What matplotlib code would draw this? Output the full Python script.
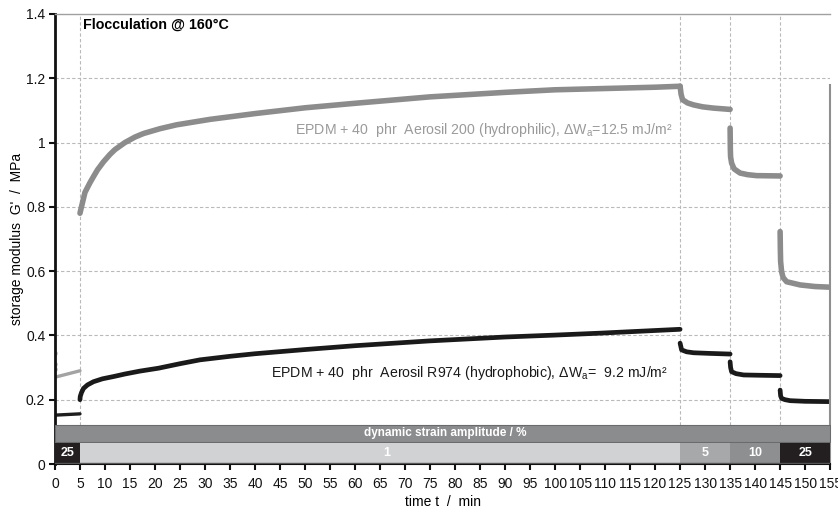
import matplotlib.pyplot as plt
from matplotlib.ticker import MultipleLocator, FormatStrFormatter

plt.rcParams['font.family'] = ['Liberation Sans', 'DejaVu Sans']
plt.rcParams['mathtext.fontset'] = 'custom'
plt.rcParams['mathtext.rm'] = 'Liberation Sans'
plt.rcParams['mathtext.it'] = 'Liberation Sans:italic'

# strain program: step start / end in min and amplitude in %
step_start = [0, 5, 125, 135, 145]
step_end = [5, 125, 135, 145, 155]
strain_amp = [25, 1, 5, 10, 25]

# EPDM + Aerosil 200 (hydrophilic), one list per strain step
hphil_t0 = [0, 5]
hphil_g0 = [0.27, 0.29]
hphil_t1 = [5, 5.3, 6, 7, 7.7, 8.5, 9.7, 11, 12, 14, 16, 17.7, 21, 24.3, 31,
            40, 50, 60, 75, 90, 100, 110, 120, 125]
hphil_g1 = [0.78, 0.80, 0.845, 0.875, 0.894, 0.915, 0.94, 0.963, 0.978, 1.0,
            1.017, 1.028, 1.043, 1.055, 1.072, 1.09, 1.108, 1.122, 1.142,
            1.156, 1.164, 1.168, 1.172, 1.175]
hphil_t2 = [125, 125.2, 125.5, 126.5, 127.7, 129.5, 131.7, 135]
hphil_g2 = [1.175, 1.15, 1.133, 1.123, 1.117, 1.111, 1.107, 1.103]
hphil_t3 = [135, 135.05, 135.1, 135.3, 135.8, 137, 138.5, 140.3, 145]
hphil_g3 = [1.045, 0.977, 0.955, 0.936, 0.918, 0.905, 0.9, 0.897, 0.896]
hphil_t4 = [145, 145.05, 145.1, 145.3, 145.6, 146.3, 149, 152, 155]
hphil_g4 = [0.723, 0.666, 0.63, 0.598, 0.58, 0.567, 0.557, 0.552, 0.55]

# EPDM + Aerosil R974 (hydrophobic)
hphob_t0 = [0, 5]
hphob_g0 = [0.152, 0.156]
hphob_t1 = [5, 5.05, 5.3, 5.7, 6.5, 7.7, 9.5, 11.7, 14, 17, 20.7, 25, 29, 35,
            40, 50, 60, 75, 90, 100, 109, 117, 125]
hphob_g1 = [0.2, 0.21, 0.222, 0.235, 0.246, 0.256, 0.265, 0.272, 0.28, 0.289,
            0.298, 0.312, 0.324, 0.335, 0.343, 0.356, 0.368, 0.383, 0.395,
            0.401, 0.407, 0.413, 0.419]
hphob_t2 = [125, 125.3, 126.3, 127.7, 131, 135]
hphob_g2 = [0.376, 0.355, 0.349, 0.346, 0.344, 0.342]
hphob_t3 = [135, 135.1, 135.3, 136.2, 137.7, 141, 145]
hphob_g3 = [0.318, 0.3, 0.287, 0.281, 0.277, 0.276, 0.275]
hphob_t4 = [145, 145.1, 145.3, 146, 147, 150, 155]
hphob_g4 = [0.23, 0.212, 0.204, 0.2, 0.197, 0.195, 0.194]

amp_color = {25: '#231f20', 1: '#d1d2d4', 5: '#a7a8aa', 10: '#8e8f91'}

fig = plt.figure(figsize=(8.38, 5.08), dpi=100)
ax = fig.add_axes([0.0656, 0.0866, 0.925, 0.886])

ax.set_xlim(0, 155)
ax.set_ylim(0, 1.4)

# grid: horizontal every 0.2, vertical at the strain steps
for yv in [0.2, 0.4, 0.6, 0.8, 1.0, 1.2]:
    ax.axhline(yv, color='#b9b9b9', lw=0.8, ls=(0, (3, 2)), zorder=0)
for xv in step_start[1:]:
    ax.axvline(xv, color='#b9b9b9', lw=0.8, ls=(0, (3, 2)), zorder=0)

# hydrophilic silica curve
ax.plot(hphil_t0, hphil_g0, color='#a3a3a3', lw=2.4, solid_capstyle='round')
ax.plot([0, 0, 0], [0.345, 0.31, 0.295], 'o', color='#c4c4c4', ms=2.5)
for t, g in [(hphil_t1, hphil_g1), (hphil_t2, hphil_g2),
             (hphil_t3, hphil_g3), (hphil_t4, hphil_g4)]:
    ax.plot(t, g, color='#8c8c8c', lw=4.0, solid_capstyle='round')

# hydrophobic silica curve
ax.plot(hphob_t0, hphob_g0, color='#1e1e1e', lw=2.4, solid_capstyle='round')
for t, g in [(hphob_t1, hphob_g1), (hphob_t2, hphob_g2),
             (hphob_t3, hphob_g3), (hphob_t4, hphob_g4)]:
    ax.plot(t, g, color='#1a1a1a', lw=3.4, solid_capstyle='round')

# strain amplitude bar at the bottom
ax.broken_barh([(0, 155)], (0.069, 0.053), facecolors='#8b8c8e',
               edgecolors='#6a6b6d', lw=0.8, zorder=3)
ax.text(78, 0.0955, 'dynamic strain amplitude / %', color='white',
        fontsize=8.5, fontweight='bold', ha='center', va='center', zorder=4)
for s, e, a in zip(step_start, step_end, strain_amp):
    ax.broken_barh([(s, e - s)], (0.003, 0.062), facecolors=amp_color[a],
                   edgecolors='none', zorder=3)
    xc = (s + e) / 2 + (1.4 if a == 1 else 0)
    ax.text(xc, 0.035, str(a), color='white', fontsize=9,
            fontweight='bold', ha='center', va='center', zorder=4)
ax.plot([0, 155], [0.004, 0.004], color='#555555', lw=1.0, zorder=4)

# annotations
ax.text(5.6, 1.366, 'Flocculation @ 160°C', fontsize=10.3, fontweight='bold',
        ha='left', va='center')
ax.text(123.4, 1.04,
        'EPDM + 40  phr  Aerosil 200 (hydrophilic), $\\Delta$W$_\\mathrm{a}$=12.5 mJ/m²',
        color='#9a9a9a', fontsize=10.2, ha='right', va='center')
ax.text(122.6, 0.283,
        'EPDM + 40  phr  Aerosil R974 (hydrophobic), $\\Delta$W$_\\mathrm{a}$=  9.2 mJ/m²',
        color='#1a1a1a', fontsize=10.2, ha='right', va='center')

# axes styling
ax.spines['left'].set_linewidth(2.0)
ax.spines['left'].set_color('#111111')
ax.spines['bottom'].set_linewidth(1.5)
ax.spines['bottom'].set_color('#111111')
ax.spines['top'].set_color('#a0a0a0')
ax.spines['top'].set_linewidth(1.0)
ax.spines['right'].set_color('#8f8f8f')
ax.spines['right'].set_linewidth(1.5)
ax.spines['right'].set_bounds(0, 1.18)

ax.xaxis.set_major_locator(MultipleLocator(5))
ax.yaxis.set_major_locator(MultipleLocator(0.2))
ax.yaxis.set_major_formatter(FormatStrFormatter('%g'))
ax.tick_params(axis='both', direction='out', length=4, width=1.5,
               labelsize=10, colors='#111111', pad=3)
ax.tick_params(axis='x', pad=5)
ax.tick_params(right=False, top=False)

ax.set_xlabel('time t  /  min', fontsize=10, labelpad=3)
ax.set_ylabel("storage modulus  G'  /  MPa", fontsize=10)
ax.yaxis.set_label_coords(-0.04, 0.5)

fig.savefig('out.png', dpi=100)
